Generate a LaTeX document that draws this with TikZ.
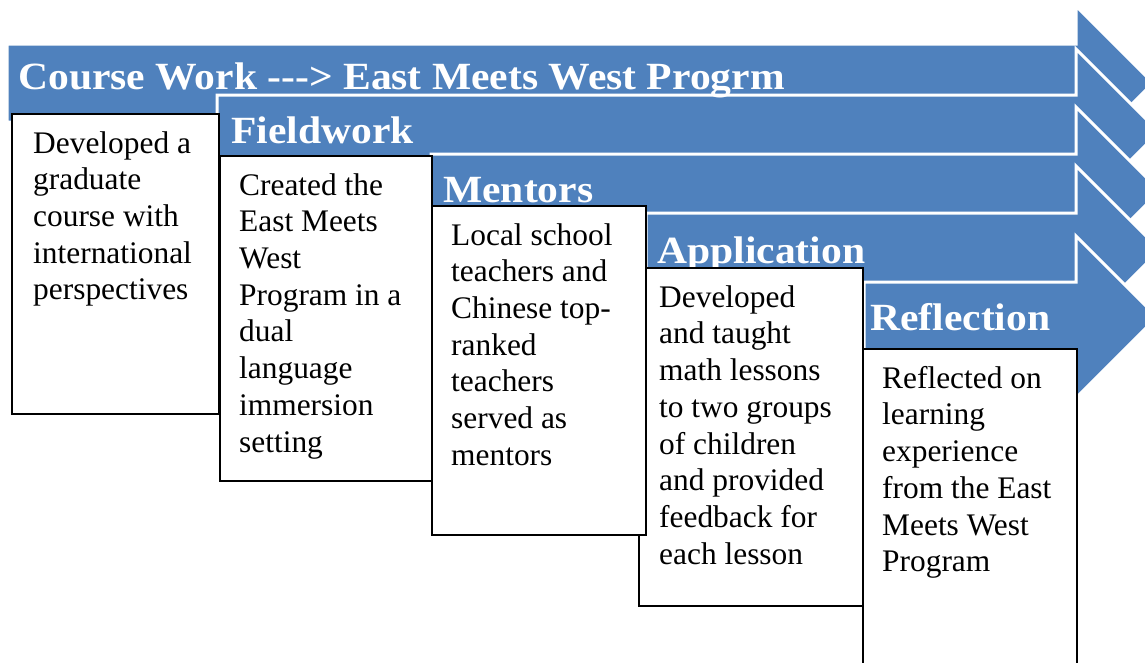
\documentclass[tikz,border=0pt]{standalone}
\usepackage{fontspec}
\setmainfont{Liberation Serif}
\newfontfamily\headfont{Liberation Serif}[FakeStretch=1.08]
\definecolor{stepblue}{HTML}{4F81BD}
\tikzset{
  arrowshape/.style={fill=stepblue, draw=white, line width=3pt, line join=miter},
  headtext/.style={anchor=base west, inner sep=0pt, text=white,
    font=\headfont\bfseries\fontsize{38.5}{44}\selectfont},
  boxshape/.style={draw=black, fill=white, line width=1.6pt, inner sep=0pt, anchor=north west},
  bodytext/.style={anchor=north west, inner sep=0pt, align=left,
    font=\fontsize{31.4}{36.7}\selectfont},
}
\begin{document}
\begin{tikzpicture}[x=1pt,y=-1pt]
\useasboundingbox (0,0) rectangle (1145,662);
\clip (0,0) rectangle (1145,662);
% arrows
\path[arrowshape] (7,44) -- (1076,44) -- (1076,6) -- (1153,83) -- (1076,160) -- (1076,122) -- (7,122) -- cycle;
\path[arrowshape] (217,95) -- (1076,95) -- (1076,49) -- (1159,132) -- (1076,215) -- (1076,170) -- (217,170) -- cycle;
\path[arrowshape] (431,154) -- (1076,154) -- (1076,107) -- (1160,191) -- (1076,275) -- (1076,229) -- (431,229) -- cycle;
\path[arrowshape] (646,213) -- (1076,213) -- (1076,166) -- (1160,250) -- (1076,334) -- (1076,288) -- (646,288) -- cycle;
\path[arrowshape] (864,282) -- (1076,282) -- (1076,236) -- (1157,317) -- (1076,398) -- (1076,353) -- (864,353) -- cycle;
% headings
\node[headtext] (h1) at (18,89) {Course Work ---> East Meets West Progrm};
\node[headtext] (h2) at (231,143) {Fieldwork};
\node[headtext] (h3) at (443,202) {Mentors};
\node[headtext] (h4) at (657,263) {Application};
\node[headtext] (h5) at (870,330) {Reflection};
% boxes
\node[boxshape, minimum width=214pt, minimum height=360pt] (b5) at (862,348) {};
\node[boxshape, minimum width=224pt, minimum height=338pt] (b4) at (638,267) {};
\node[boxshape, minimum width=214pt, minimum height=329pt] (b3) at (431,205) {};
\node[boxshape, minimum width=212pt, minimum height=325pt] (b2) at (219,155) {};
\node[boxshape, minimum width=207pt, minimum height=300pt] (b1) at (11,113) {};
% texts
\node[bodytext] (t1) at (33,127.3) {\strut Developed a\\graduate\\course with\\international\\perspectives};
\node[bodytext] (t2) at (239,169.3) {\strut Created the\\East Meets\\West\\Program in a\\dual\\language\\immersion\\setting};
\node[bodytext] (t3) at (451,219.3) {\strut Local school\\teachers and\\Chinese top-\\ranked\\teachers\\served as\\mentors};
\node[bodytext] (t4) at (659,281.3) {\strut Developed\\and taught\\math lessons\\to two groups\\of children\\and provided\\feedback for\\each lesson};
\node[bodytext] (t5) at (882,362.3) {\strut Reflected on\\learning\\experience\\from the East\\Meets West\\Program};
\end{tikzpicture}
\end{document}
